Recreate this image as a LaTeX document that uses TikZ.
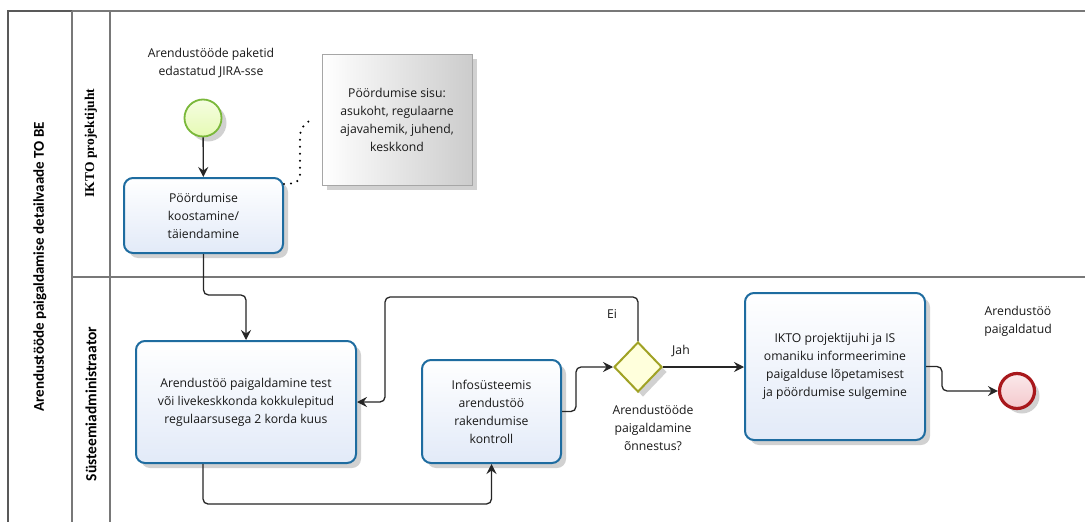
\documentclass[tikz,border=0pt]{standalone}
\usepackage{fontspec}
\setmainfont{Open Sans}
\newfontfamily\headfont{Carlito}
\newfontfamily\laneserif{Liberation Serif}
\usetikzlibrary{shapes.geometric,arrows.meta,shadows}
\definecolor{taskblue}{RGB}{30,108,160}
\definecolor{taskfill}{RGB}{226,234,248}
\definecolor{startgreen}{RGB}{122,184,58}
\definecolor{startfill}{RGB}{230,250,180}
\definecolor{endred}{RGB}{168,24,28}
\definecolor{endfill}{RGB}{244,200,204}
\definecolor{gwolive}{RGB}{160,162,36}
\definecolor{gwfill}{RGB}{255,255,220}
\definecolor{poolgray}{RGB}{120,120,120}
\tikzset{
  x=1pt, y=-1pt,
  txt/.style={font=\fontsize{12.2}{18}\selectfont, align=center, text=black!90},
  softshadow/.style={drop shadow={shadow xshift=5pt, shadow yshift=-5pt, opacity=0.18, fill=black}},
  task/.style={rectangle, rounded corners=9pt, draw=taskblue, line width=2pt,
    top color=white, bottom color=taskfill, softshadow, txt, inner sep=2pt},
  startev/.style={circle, draw=startgreen, line width=1.8pt, inner sep=0pt,
    minimum size=37pt, top color=startfill!40, bottom color=startfill, softshadow},
  endev/.style={circle, draw=endred, line width=3.2pt, inner sep=0pt,
    minimum size=35pt, top color=endfill!40, bottom color=endfill, softshadow},
  gateway/.style={diamond, draw=gwolive, line width=2pt, inner sep=0pt,
    minimum width=48pt, minimum height=50pt, fill=gwfill, softshadow},
  note/.style={rectangle, draw=black!35, line width=0.6pt, left color=white,
    right color=black!20, softshadow, txt},
  flow/.style={draw=black!85, line width=1.3pt, rounded corners=5pt,
    -{Stealth[length=10pt,width=10pt,inset=3.5pt]}},
  assoc/.style={draw=black, line width=2.3pt, line cap=round,
    dash pattern=on 0pt off 7pt, rounded corners=8pt},
  lane/.style={draw=poolgray, line width=1.4pt},
  headtxt/.style={rotate=90, font=\headfont\fontsize{15}{17}\selectfont\bfseries},
}
\begin{document}
\begin{tikzpicture}
\useasboundingbox (0,0) rectangle (1085,522);
\fill[white] (0,0) rectangle (1085,522);

% pool and lanes
\draw[lane, draw=black!65] (8,522) -- (8,11) -- (72,11);
\draw[lane] (72,11) -- (1085,11);
\draw[lane] (72,11) -- (72,522);
\draw[lane] (110,11) -- (110,522);
\draw[lane] (72,277) -- (1085,277);
\node[headtxt] (pooltitle) at (40,267) {Arendustööde paigaldamise detailvaade TO BE};
\node[rotate=90, font=\laneserif\fontsize{13.5}{15}\selectfont\bfseries] (lane1) at (91,143) {IKTO projektijuht};
\node[headtxt, font=\headfont\fontsize{15.5}{17}\selectfont\bfseries] (lane2) at (91,404) {Süsteemiadministraator};

% upper lane
\node[startev] (start) at (203,118) {};
\node[txt] (startlbl) at (211,63) {Arendustööde paketid\\edastatud JIRA-sse};
\node[task, minimum width=159pt, minimum height=75pt] (t1) at (203.5,215.5)
  {Pöördumise\\koostamine/\\täiendamine};
\node[note, minimum width=150pt, minimum height=131pt] (memo) at (397,119.5)
  {Pöördumise sisu:\\asukoht, regulaarne\\ajavahemik, juhend,\\keskkond};

% lower lane
\node[task, minimum width=220pt, minimum height=122pt] (t2) at (246,402)
  {Arendustöö paigaldamine test\\või livekeskkonda kokkulepitud\\regulaarsusega 2 korda kuus};
\node[task, minimum width=139pt, minimum height=103pt] (t3) at (491.5,411.5)
  {Infosüsteemis\\arendustöö\\rakendumise\\kontroll};
\node[gateway] (gw) at (638,367) {};
\node[txt] (gwlbl) at (653,428) {Arendustööde\\paigaldamine\\õnnestus?};
\node[txt] (ei) at (612,314) {Ei};
\node[txt] (jah) at (681,351) {Jah};
\node[task, minimum width=180pt, minimum height=147pt] (t4) at (835,366.5)
  {IKTO projektijuhi ja IS\\omaniku informeerimine\\paigalduse lõpetamisest\\ja pöördumise sulgemine};
\node[endev] (end) at (1017,391) {};
\node[txt] (endlbl) at (1018,321) {Arendustöö\\paigaldatud};

% bend points
\coordinate (b1) at (225,295);
\coordinate (b2) at (350,504);
\coordinate (b3) at (576,390);
\coordinate (b4) at (385,297);
\coordinate (b5) at (942,380);
\coordinate (a1) at (313,118);
\coordinate (a2) at (300,183);
\coordinate (a3) at (300,128);

% sequence flows
\draw[flow] (start) -- (t1);
\draw[flow] (t1.south) |- (b1) -| (t2.north);
\draw[flow] ([xshift=-43pt]t2.south) |- (b2) -| (t3.south);
\draw[flow] (t3.east) -| (b3) |- (gw.west);
\draw[flow] (gw.north) |- (b4) |- (t2.east);
\draw[flow] (gw.east) -- (t4.west |- gw.east);
\draw[flow] (t4.east) -| (b5) |- (end.west);

% association to the annotation
\draw[assoc] ([yshift=-7pt]t1.north east) -- (a2) -- (a3) -- (a1);
\end{tikzpicture}
\end{document}
